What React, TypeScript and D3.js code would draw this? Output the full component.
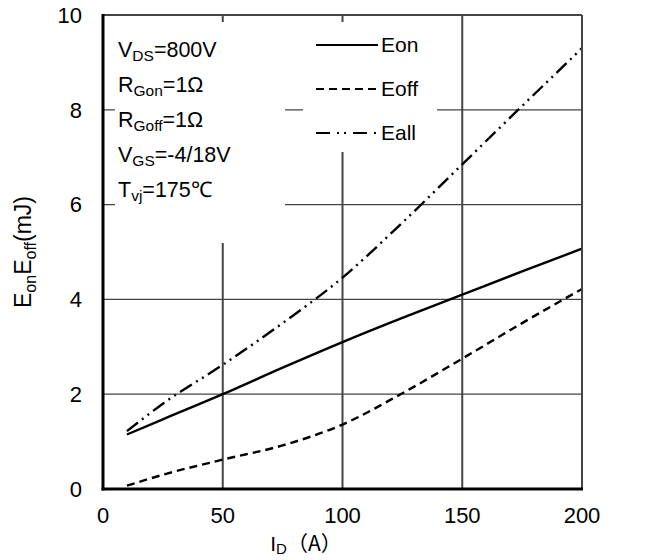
import React from "react";
import * as d3 from "d3";

const currents = [10, 25, 50, 75, 100, 125, 150, 175, 200];
const eon = [1.15, 1.47, 2.0, 2.56, 3.1, 3.61, 4.1, 4.59, 5.07];
const eoff = [0.07, 0.3, 0.62, 0.92, 1.36, 2.02, 2.75, 3.5, 4.22];
const eall = [1.22, 1.8, 2.62, 3.5, 4.46, 5.62, 6.85, 8.08, 9.3];
const xTicks = [0, 50, 100, 150, 200];
const yTicks = [0, 2, 4, 6, 8, 10];

const W = 649, H = 560;
const M = { left: 103, right: 582, top: 15, bottom: 489 };
const FONT = "'Liberation Sans', Arial, sans-serif";

export default function App() {
  const x = d3.scaleLinear().domain([0, 200]).range([M.left, M.right]);
  const y = d3.scaleLinear().domain([0, 10]).range([M.bottom, M.top]);
  const line = d3
    .line<number>()
    .x((_, i) => x(currents[i]))
    .y((d) => y(d))
    .curve(d3.curveMonotoneX);

  const series = [
    { name: "Eon", values: eon, dash: "none", legDash: "none" },
    { name: "Eoff", values: eoff, dash: "8,5", legDash: "8,5" },
    { name: "Eall", values: eall, dash: "14,5,2,5,2,5", legDash: "14,7,2,5,2,7" },
  ];

  const grid = "#444";
  return (
    <svg width={W} height={H} style={{ position: "absolute", left: 0, top: 0, background: "#fff" }} fontFamily={FONT}>
      {yTicks.slice(1, -1).map((t) => (
        <line key={"h" + t} x1={M.left} x2={M.right} y1={y(t)} y2={y(t)} stroke={grid} strokeWidth={1.3} />
      ))}
      {xTicks.slice(1, -1).map((t) => (
        <line key={"v" + t} x1={x(t)} x2={x(t)} y1={M.top} y2={M.bottom} stroke={grid} strokeWidth={2} />
      ))}
      <rect x={115} y={22} width={170} height={221} fill="#fff" />
      <rect x={303} y={22} width={134} height={130} fill="#fff" />

      {series.map((s) => (
        <path key={s.name} d={line(s.values) || ""} fill="none" stroke="#000" strokeWidth={2.4} strokeDasharray={s.dash} />
      ))}

      <line x1={M.left} x2={M.right} y1={M.top} y2={M.top} stroke={grid} strokeWidth={2} />
      <line x1={M.right} x2={M.right} y1={M.top} y2={M.bottom} stroke={grid} strokeWidth={2} />
      <line x1={M.left} x2={M.left} y1={M.top - 1} y2={M.bottom + 1.5} stroke="#000" strokeWidth={3} />
      <line x1={M.left - 1.5} x2={M.right + 1} y1={M.bottom} y2={M.bottom} stroke="#000" strokeWidth={3} />

      {yTicks.map((t) => (
        <text key={"yl" + t} x={M.left - 21} y={y(t)} dy="0.35em" textAnchor="end" fontSize={22}>
          {t}
        </text>
      ))}
      {xTicks.map((t) => (
        <text key={"xl" + t} x={x(t)} y={M.bottom + 34} textAnchor="middle" fontSize={22}>
          {t}
        </text>
      ))}

      <text transform={`translate(31,${(M.top + M.bottom) / 2}) rotate(-90)`} textAnchor="middle" fontSize={23}>
        E<tspan fontSize={16} dy={5}>on</tspan>
        <tspan dy={-5}>E</tspan>
        <tspan fontSize={16} dy={5}>off</tspan>
        <tspan dy={-5}>(mJ)</tspan>
      </text>
      <text x={306} y={551} textAnchor="middle" fontSize={21}>
        I<tspan fontSize={15} dy={3}>D</tspan>
        <tspan dy={-3} fontFamily="'Noto Sans CJK SC', sans-serif">（A）</tspan>
      </text>

      <g fontSize={21.5}>
        <text x={118} y={57}>V<tspan fontSize={15.5} dy={4}>DS</tspan><tspan dy={-4}>=800V</tspan></text>
        <text x={118} y={92}>R<tspan fontSize={15.5} dy={4}>Gon</tspan><tspan dy={-4}>=1Ω</tspan></text>
        <text x={118} y={127}>R<tspan fontSize={15.5} dy={4}>Goff</tspan><tspan dy={-4}>=1Ω</tspan></text>
        <text x={118} y={162}>V<tspan fontSize={15.5} dy={4}>GS</tspan><tspan dy={-4}>=-4/18V</tspan></text>
        <text x={118} y={197}>T<tspan fontSize={15.5} dy={4}>vj</tspan><tspan dy={-4}>=175℃</tspan></text>
      </g>

      {series.map((s, i) => {
        const ly = 45 + i * 44;
        return (
          <g key={"lg" + s.name}>
            <line x1={316} x2={378} y1={ly} y2={ly} stroke="#000" strokeWidth={2.2} strokeDasharray={s.legDash} />
            <text x={381} y={ly} dy="0.35em" fontSize={21}>{s.name}</text>
          </g>
        );
      })}
    </svg>
  );
}
